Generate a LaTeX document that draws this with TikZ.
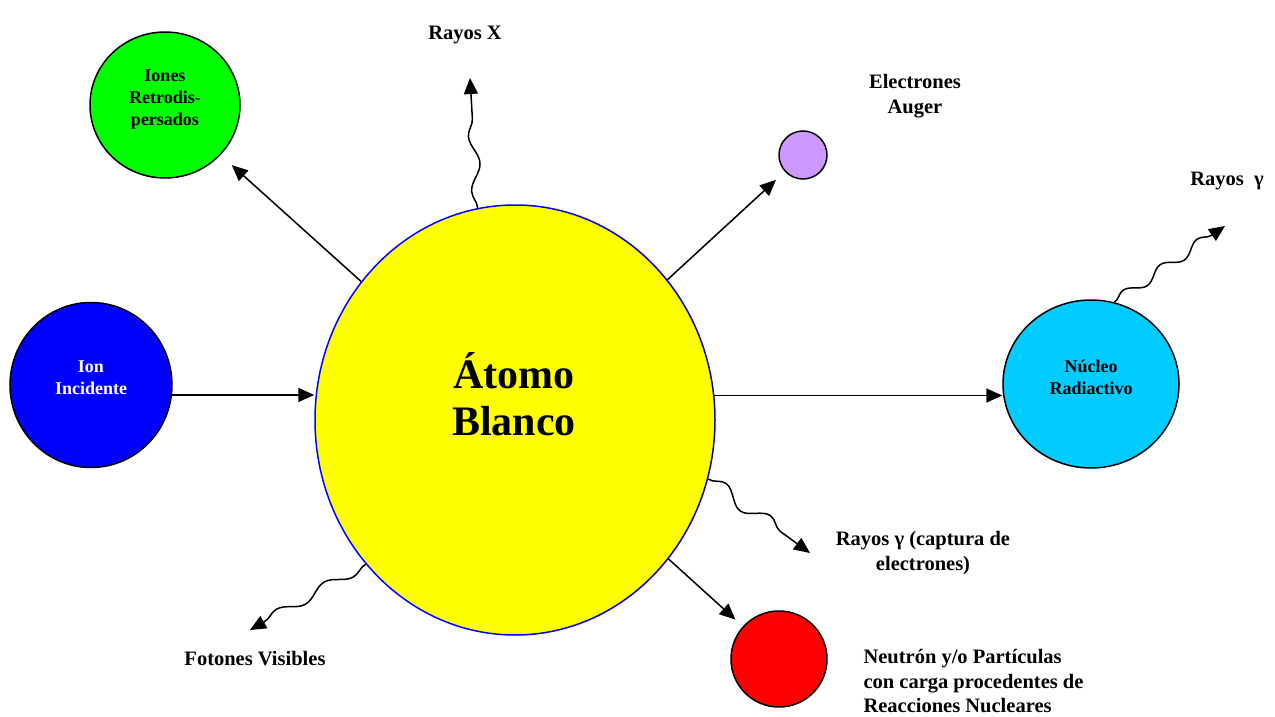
\documentclass[tikz,border=0pt]{standalone}
\usepackage{fontspec}
\setmainfont{Liberation Serif}
\usetikzlibrary{shapes.geometric, arrows.meta, decorations.pathmorphing}

\definecolor{atomyellow}{RGB}{255,255,0}
\definecolor{ionblue}{RGB}{0,0,255}
\definecolor{backgreen}{RGB}{0,255,0}
\definecolor{augerpurple}{RGB}{204,153,255}
\definecolor{nucleuscyan}{RGB}{0,204,255}
\definecolor{neutronred}{RGB}{255,0,0}

\begin{document}
\begin{tikzpicture}[x=1pt, y=-1pt,
  ball/.style={ellipse, draw, line width=1.5pt, inner sep=0pt, align=center, font=\bfseries\fontsize{18}{22}\selectfont,
    execute at end node={\rule[-14pt]{0pt}{0pt}}},
  lbl/.style={align=center, font=\bfseries\fontsize{20.5}{24.5}\selectfont},
  arr/.style={-{Triangle[length=16pt,width=14pt]}, line width=1.5pt},
  wavy/.style={arr, decorate, decoration={snake, amplitude=5pt, segment length=55pt, post length=14pt}}]
\useasboundingbox (0,0) rectangle (1275,717);

\node (atom) [ball, fill=atomyellow, draw=blue, minimum width=400pt, minimum height=430pt] at (515,420) {};
\node (atomtext) [align=center, font=\bfseries\fontsize{42}{47}\selectfont] at (514,394) {Átomo\\Blanco};
\node (ion) [ball, fill=ionblue, text=white, minimum width=162pt, minimum height=165pt] at (91,385) {Ion\\Incidente};
\node (iones) [ball, fill=backgreen, minimum width=150pt, minimum height=146pt] at (165,105) {Iones\\Retrodis-\\persados};
\node (auger) [ball, fill=augerpurple, minimum width=48pt, minimum height=48pt] at (803,155) {};
\node (nucleo) [ball, fill=nucleuscyan, minimum width=176pt, minimum height=168pt] at (1091,384) {Núcleo\\Radiactivo};
\node (neutron) [ball, fill=neutronred, minimum width=96pt, minimum height=96pt] at (779,659) {};

\node (xlbl) [lbl] at (465,35) {Rayos X};
\node (augerlbl) [lbl] at (915,96) {Electrones\\Auger};
\node (glbl) [lbl] at (1227,181) {Rayos~~γ};
\node (clbl) [lbl] at (923,553) {Rayos γ (captura de\\electrones)};
\node (flbl) [lbl] at (255,659) {Fotones Visibles};
\node (nlbl) [lbl, align=left, anchor=west] at (860,681) {Neutrón y/o Partículas\\con carga procedentes de\\Reacciones Nucleares};

\coordinate (xtip) at (470,78);
\coordinate (gtip) at (1225,226);
\coordinate (ctip) at (810,553);
\coordinate (ftip) at (250,630);

\path [arr]
     (ion.-7) edge (ion.-7 -| atom.west)
     (atom) edge [shorten >=15pt] (iones)
     (atom) edge [shorten >=12pt] (auger)
     (atom) edge [shorten >=10pt] (neutron)
     (atom.7) edge (atom.7 -| nucleo.west);

\draw [wavy] (atom.100) -- (xtip);
\draw [wavy, decoration={segment length=45pt}] (nucleo.74) -- (gtip);
\draw [wavy, decoration={amplitude=7pt}] (atom.-17) -- (ctip);
\draw [wavy] (atom.224) -- (ftip);
\end{tikzpicture}
\end{document}
